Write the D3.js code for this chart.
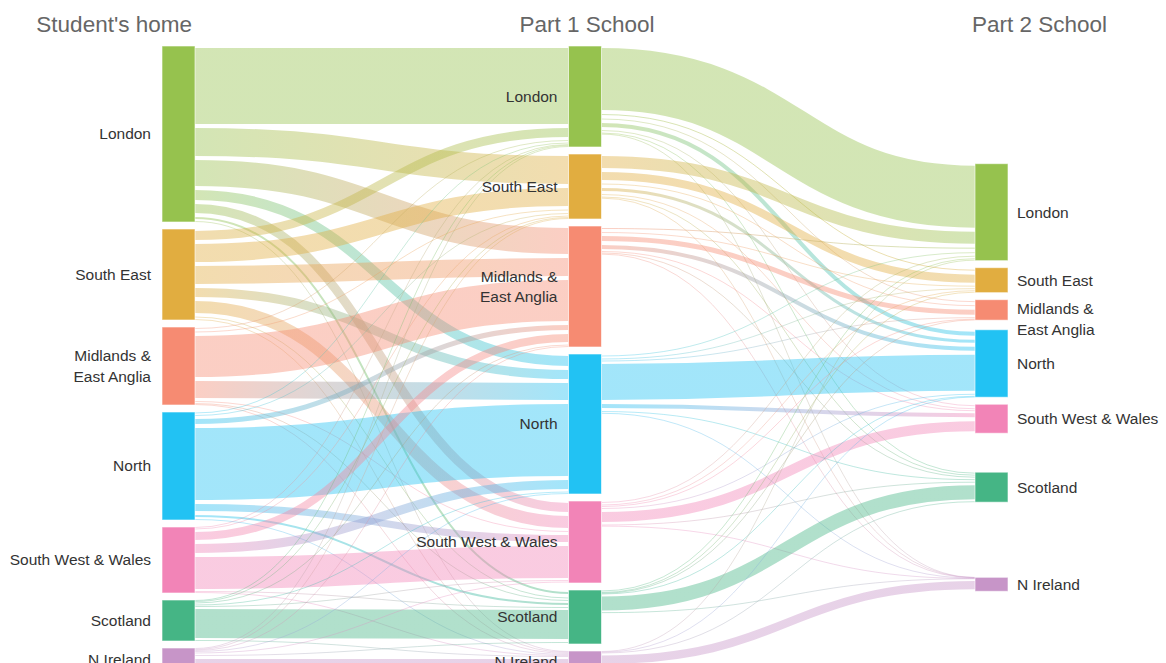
<!DOCTYPE html>
<html>
<head>
<meta charset="utf-8">
<script src="https://cdn.jsdelivr.net/npm/d3@7"></script>
<style>
  body { margin: 0; background: #fff; }
  svg { display: block; font-family: "Liberation Sans", Arial, sans-serif; }
  .title { fill: #666; font-size: 22.5px; }
  .label { fill: #333; font-size: 15.5px; }
</style>
</head>
<body>
<svg class="svg-sankey" width="1166" height="663"></svg>
<script>
const stages = ["Student's home", "Part 1 School", "Part 2 School"];
const regions = ["London", "South East", "Midlands &\nEast Anglia", "North", "South West & Wales", "Scotland", "N Ireland"];

// rows: student's home, columns: part 1 school (same region order)
const homeToPart1 = [
  [80, 32, 30, 14, 13, 6, 1],
  [13, 22, 22, 13, 16, 4, 1],
  [3, 4, 45, 21, 3, 1, 1],
  [2, 3, 9, 76, 11, 6, 1],
  [1, 2, 12, 13, 36, 1, 1],
  [1, 1, 2, 2, 1, 33, 1],
  [1, 1, 1, 1, 2, 3, 15]
];

// rows: part 1 school, columns: part 2 school
const part1ToPart2 = [
  [66, 5, 4, 8, 3, 2, 0.2],
  [16, 12, 4, 7, 3, 2, 0.2],
  [5, 3, 9, 8, 1, 2, 0.2],
  [4, 2, 2, 40, 8, 3, 0.5],
  [3, 2, 1, 3, 14, 2, 0.2],
  [2, 1, 0.5, 1, 0, 18, 0.3],
  [1, 0, 0, 0.5, 0, 1, 12.4]
];

const regionColors = ["#96c24e", "#e1ad40", "#f68b72", "#22c2f3", "#f284b7", "#45b585", "#c795c8"];

class SankeyChart {
  constructor() {
    this.svg = d3.select(".svg-sankey");
    this.top = 46;
    this.height = 626;
    this.nodeWidth = 33;
    this.nodePadding = 7;
    this.pull = 0.8;           // how far loose nodes follow their sources
    this.midY = this.top + this.height * 0.567;
    this.x = d3.scaleLinear().domain([0, 2]).range([162, 975]);
    this.color = d3.scaleOrdinal().domain(regions).range(regionColors);
    this.link = d3.linkHorizontal();

    this.buildGraph();
    this.layout();
    this.draw();
  }

  buildGraph() {
    let self = this;
    this.nodes = [];
    stages.forEach(function (s, si) {
      regions.forEach(function (r, ri) {
        self.nodes.push({ stage: si, index: ri, name: r, sourceLinks: [], targetLinks: [] });
      });
    });
    this.links = [];
    [homeToPart1, part1ToPart2].forEach(function (m, si) {
      m.forEach(function (row, i) {
        row.forEach(function (v, j) {
          if (!v) return;
          let l = { source: self.nodes[si * 7 + i], target: self.nodes[(si + 1) * 7 + j], value: v };
          l.source.sourceLinks.push(l);
          l.target.targetLinks.push(l);
          self.links.push(l);
        });
      });
    });
  }

  layout() {
    let self = this;
    this.nodes.forEach(function (n) {
      n.value = Math.max(d3.sum(n.sourceLinks, d => d.value), d3.sum(n.targetLinks, d => d.value));
      n.x0 = self.x(n.stage);
      n.x1 = n.x0 + self.nodeWidth;
    });
    this.columns = d3.groups(this.nodes, d => d.stage).map(d => d[1]);

    let ky = d3.min(this.columns, function (col) {
      return (self.height - (col.length - 1) * self.nodePadding) / d3.sum(col, d => d.value);
    });
    this.v = d3.scaleLinear().domain([0, 1]).range([0, ky]);
    this.nodes.forEach(function (n) { n.dy = self.v(n.value); });

    this.columns.forEach(function (col, ci) {
      let y = self.top;
      col.forEach(function (n) {
        n.y0 = y;
        y += n.dy + self.nodePadding;
      });
      if (ci === 0) return;
      col.forEach(function (n) {
        let w = d3.sum(n.targetLinks, d => d.value);
        let want = d3.sum(n.targetLinks, d => (d.source.y0 + d.source.dy / 2) * d.value) / w;
        let c = self.midY + self.pull * (want - self.midY);
        n.y0 = c - n.dy / 2;
      });
      self.resolve(col);
    });

    this.nodes.forEach(function (n) {
      n.y1 = n.y0 + n.dy;
      n.sourceLinks.sort((a, b) => a.target.y0 - b.target.y0);
      n.targetLinks.sort((a, b) => a.source.y0 - b.source.y0);
      let sy = n.y0, ty = n.y0;
      n.sourceLinks.forEach(function (l) {
        l.dy = self.v(l.value);
        l.sy = sy + l.dy / 2;
        sy += l.dy;
      });
      n.targetLinks.forEach(function (l) {
        l.ty = ty + self.v(l.value) / 2;
        ty += self.v(l.value);
      });
    });
  }

  resolve(col) {
    let y0 = this.top, n = col.length, i, d;
    for (i = 0; i < n; ++i) {
      d = y0 - col[i].y0;
      if (d > 0) col[i].y0 += d;
      y0 = col[i].y0 + col[i].dy + this.nodePadding;
    }
    d = y0 - this.nodePadding - (this.top + this.height);
    if (d > 0) {
      y0 = col[n - 1].y0 -= d;
      for (i = n - 2; i >= 0; --i) {
        d = col[i].y0 + col[i].dy + this.nodePadding - y0;
        if (d > 0) col[i].y0 -= d;
        y0 = col[i].y0;
      }
    }
  }

  draw() {
    let self = this;
    let defs = this.svg.append("defs");

    let grads = defs.selectAll("linearGradient")
      .data(this.links)
      .enter().append("linearGradient")
      .attr("id", (d, i) => "grad" + i)
      .attr("gradientUnits", "userSpaceOnUse")
      .attr("x1", d => d.source.x1)
      .attr("x2", d => d.target.x0)
      .attr("y1", 0)
      .attr("y2", 0);
    grads.append("stop").attr("offset", "0%").attr("stop-color", d => self.color(d.source.name));
    grads.append("stop").attr("offset", "100%").attr("stop-color", d => self.color(d.target.name));

    this.svg.append("g")
      .attr("class", "links")
      .attr("fill", "none")
      .selectAll("path")
      .data(this.links)
      .enter().append("path")
      .attr("d", function (d) {
        return self.link({ source: [d.source.x1, d.sy], target: [d.target.x0, d.ty] });
      })
      .attr("stroke", (d, i) => "url(#grad" + i + ")")
      .attr("stroke-opacity", 0.42)
      .attr("stroke-width", d => Math.max(0.8, d.dy - 4));

    this.svg.append("g")
      .attr("class", "nodes")
      .selectAll("rect")
      .data(this.nodes)
      .enter().append("rect")
      .attr("x", d => d.x0)
      .attr("y", d => d.y0)
      .attr("width", this.nodeWidth)
      .attr("height", d => d.dy)
      .attr("fill", d => self.color(d.name))
      .attr("stroke", "#fff")
      .attr("stroke-opacity", 0.6);

    // labels, nudged apart when multi-line ones would touch
    let lineH = 20.5;
    this.columns.forEach(function (col) {
      let prev = -Infinity;
      col.forEach(function (n) {
        n.lines = n.name.split("\n");
        let h = n.lines.length * lineH;
        let c = (n.y0 + n.y1) / 2;
        if (c - h / 2 < prev + 8) c = prev + 8 + h / 2;
        n.ly = c;
        prev = c + h / 2;
      });
    });

    let labels = this.svg.append("g")
      .attr("class", "labels")
      .selectAll("text")
      .data(this.nodes)
      .enter().append("text")
      .attr("class", "label")
      .attr("text-anchor", d => d.stage < 2 ? "end" : "start")
      .attr("transform", function (d) {
        let lx = d.stage < 2 ? d.x0 - 11 : d.x1 + 9;
        return "translate(" + lx + "," + d.ly + ")";
      });
    labels.selectAll("tspan")
      .data(d => d.lines.map((t, i) => ({ t: t, i: i, n: d.lines.length })))
      .enter().append("tspan")
      .attr("x", 0)
      .attr("y", d => (d.i - (d.n - 1) / 2) * lineH)
      .attr("dy", "0.35em")
      .text(d => d.t);

    this.svg.append("g")
      .attr("class", "titles")
      .selectAll("text")
      .data(stages)
      .enter().append("text")
      .attr("class", "title")
      .attr("y", 32)
      .attr("x", function (d, i) {
        let x0 = self.x(i);
        return i === 0 ? x0 + self.nodeWidth - 3 : i === 1 ? x0 + self.nodeWidth / 2 + 2 : x0 - 3;
      })
      .attr("text-anchor", (d, i) => ["end", "middle", "start"][i])
      .text(d => d);
  }
}

new SankeyChart();
</script>
</body>
</html>
